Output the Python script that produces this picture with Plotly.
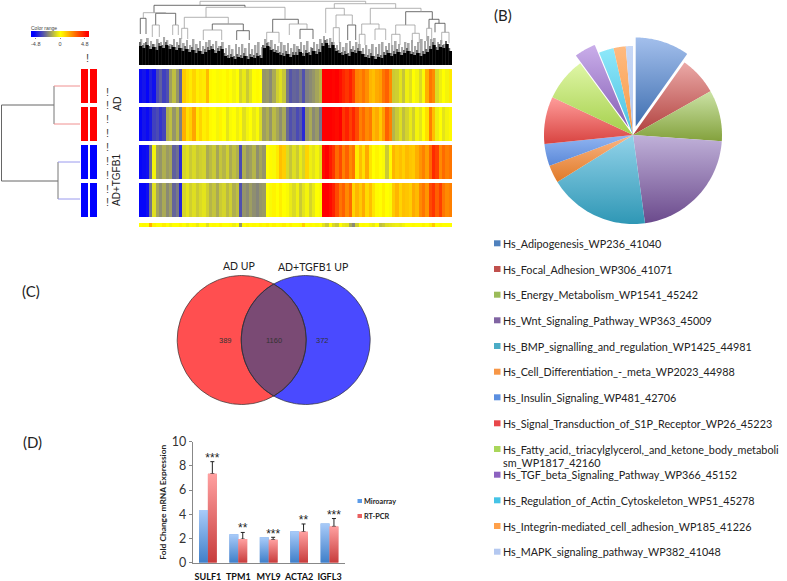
import numpy as np
import plotly.graph_objects as go

W, H = 787, 581
FONT = "Lato"

# ---------- (A) heatmap values, one list per sample row, low -4.8 .. high 4.8
AD_1 = [-4.6,-4.4,-4.7,-4.2,-4.5,-3.4,-3.0,-3.6,-3.3,-1.8,-1.2,-2.0,-3.0,1.0,0.6,0.4,0.8,0.3,0.5,0.4,1.3,
        0.1,0,-0.1,0.1,0,0.2,0,-0.2,0,-0.8,-0.4,-1.0,-0.5,0,0.1,0,-2.0,-1.9,-2.2,-1.6,-0.9,-0.6,-1.1,
        -2.6,-3.2,-2.9,-3.0,-2.6,-3.3,-2.4,-2.2,-2.0,-1.7,-1.4,4.8,4.8,4.8,4.7,4.8,4.5,4.1,3.8,4.2,3.6,
        2.4,2.2,2.6,2.1,1.4,1.2,1.6,1.8,2.6,3.0,2.2,-1.0,-0.9,-0.5,-1.1,-0.3,-0.6,0,-0.2,-0.7,-0.1,
        1.5,2.6,2.2,-0.7,-0.3,0,-0.2,0.4]
AD_2 = [-4.7,-4.4,-4.6,-4.3,-3.6,-3.4,-3.8,-3.5,-1.5,-1.2,-2.0,-1.4,-2.4,1.5,0.6,0.9,1.7,0.4,0.8,
        0.3,0.5,0.1,0,-0.2,0.2,0,-0.5,-0.1,0,-0.3,0.1,-0.6,-0.2,0,-0.4,-0.1,-0.7,
        -1.8,-1.5,-2.0,-1.3,-1.7,-2.1,-1.6,-2.8,-3.3,-3.0,-3.4,-3.1,-4.0,-2.0,-1.6,-2.2,-1.9,-2.6,
        4.8,4.8,4.8,4.7,4.6,4.8,3.8,4.2,3.6,4.1,3.4,2.4,2.8,2.2,2.5,1.3,1.6,1.0,1.8,3.0,2.4,
        -1.4,-1.0,-0.6,-1.2,-0.8,-0.4,-0.9,-0.2,-0.5,0,0.6,2.4,1.2,-0.3,0,-0.5,-0.2,0.1]
TGF_1 = [-4.7,-4.6,-4.5,-2.8,-0.2,-1.8,-2.0,-1.5,-1.9,-1.7,-3.0,-2.7,-4.0,-0.8,-0.6,-1.0,-0.7,-1.1,-0.9,-0.8,
         -1.6,-1.3,-1.0,-1.7,-1.1,-1.4,-0.9,-1.6,-1.2,-1.5,-3.4,-1.5,-2.0,-1.8,-1.4,-2.1,-1.7,-2.0,
         0,0.1,-0.1,0.4,1.2,0.9,-0.7,-1.1,-0.6,-1.0,-0.4,-0.8,0.8,-0.3,-0.5,-0.2,-0.6,
         4.6,4.8,4.3,3.8,2.8,3.4,2.4,3.0,2.2,2.6,0.4,1.2,0.6,1.6,0.5,0,0.2,0,-0.1,-1.0,0.1,
         1.4,1.0,1.2,0.9,1.3,1.1,1.0,1.5,2.0,2.4,1.8,2.8,4.0,3.6,2.2,2.8,2.4,2.6]
TGF_2 = [-4.7,-4.7,-4.5,-2.6,-0.6,-1.7,-2.1,-1.6,-2.2,-1.8,-2.9,-2.5,-4.1,-0.8,-0.5,-0.9,-0.6,-1.0,-0.7,-0.5,-0.9,
         -1.4,-1.1,-1.6,-1.0,-0.8,-1.3,-0.9,-1.5,-1.2,-3.3,-2.0,-2.2,-1.8,-2.1,-2.3,-2.0,-1.9,
         0,-0.1,0.2,0,0.3,0,-0.1,-0.4,-0.7,-0.3,-1.0,-0.5,-0.2,-0.8,-0.4,0,-0.1,
         4.8,4.8,4.6,4.2,3.4,2.6,3.0,2.2,2.8,0.8,1.4,1.0,1.6,0.7,1.2,0.5,0.1,0,0.3,0,-0.1,
         1.0,1.4,0.8,1.2,1.1,0.9,1.6,1.3,2.2,2.6,2.0,3.4,3.8,3.0,3.6,2.6,2.2,2.4]
STRIP = [0,0.1,0,1.5,0.2,0,0,0.3,0,-0.2,0,0,0.2,0,-0.3,0,0.1,-0.4,0,0,-0.6,0,0.1,0,0.2,0,0,0.1,-0.3,0,-2.0,
         0,0.2,0,0.1,0,0.2,0.1,0.3,0,0.2,0,0.1,0.3,0,0.2,0,0,0.1,0.9,0,0.1,0,-0.1,0,-0.5,-1.0,0,-0.7,-1.0,0,-0.4,-0.5,
         -1.6,-2.2,-0.9,0,0.1,0,-0.2,-0.4,0,-1.2,-1.0,-0.6,-0.5,-0.4,-0.3,-0.4,-0.2,0,0,0.1,0,0,0.2,0,0.3,1.0,0,0.1,0,0,0]
HEAT_ROWS = [AD_1, AD_2, TGF_1, TGF_2, STRIP]
COLOR_KEY = [-4.8,-3.84,-2.88,-1.92,-0.96,0,0.96,1.92,2.88,3.84,4.8]
COLOR_KEY_TICKS = ["-4.8", "0", "4.8"]
SAMPLE_GROUPS = [[1,1],[1,1],[0,0],[0,0]]

# gene dendrogram: merges (left, right, height, left drop, right drop, shade)
MERGE_LEFT  = [200,154,143.3,140.3,155.7,152.3,172.7,206,184.3,181.7,212.3,203.3,236.7,272.7,266.7,289.3,300,
               334.3,325.7,336,333.3,347.7,370.3,361.7,359.3,375,405.7,395.7,391.7,412.3,429,426.7,435,441.7]
MERGE_RIGHT = [365.7,245,165.7,146,175.7,159.3,178.3,285,228.3,187.7,243.3,221.7,249.3,298.3,279,307,313,
               395.7,344.3,352.3,339.3,355.7,421,379,365,385.7,432.3,415,400,419.3,439,431.7,445,449]
MERGE_H     = [63.7,59.7,52.3,46.7,51.7,40,40,57.7,47.7,36.7,41,35,34.3,45.7,32.7,41,35.7,
               61.3,56.7,50,37.3,40,56.7,41,30.7,36,53.3,40,30.7,31.7,45.7,36.7,41.7,32.7]
DROP_LEFT   = [59.7,52.3,46.7,31,40,28,30,47.7,36.7,26,35,25,25,32.7,22,30,26,
               56.7,32,37.3,22,25,41,30.7,20,25,40,30.7,20,22,36.7,24,32.7,22]
DROP_RIGHT  = [61.3,57.7,51.7,31,40,28,30,45.7,41,26,34.3,25,25,41,22,35.7,26,
               56.7,50,40,22,25,53.3,36,20,25,45.7,31.7,20,22,41.7,24,32.7,22]
MERGE_SHADE = [1,0,1,0,0,1,1,1,1,1,0,1,0,0,1,1,0,
               1,1,1,1,0,1,1,1,1,0,1,1,1,0,1,0,1]
LEAF_BLACK = [19,17,20,16,18,15,19,17,20,16,18,15,17,14,16,13,15,12,14,11,13,15,16,12,14,16,9,7,8,6,8,7,9,6,8,7,9,7,17,19,15,13,12,10,9,11,8,10,
              10,13,9,12,10,14,11,13,19,22,17,20,14,12,10,11,9,13,12,14,11,8,7,9,6,8,7,10,12,9,11,13,10,12,14,11,10,12,9,11,13,16,20,15,18,17,21,14]
LEAF_GRAY  = [26,22,27,24,21,26,23,28,25,21,26,23,27,22,25,20,26,21,24,19,23,25,21,24,19,23,17,20,16,21,18,21,17,22,16,20,23,18,26,23,25,21,19,23,20,22,17,21,
              19,23,20,24,18,23,21,26,29,26,27,23,20,23,18,22,24,19,23,21,17,20,16,21,18,21,23,19,22,20,24,21,18,23,22,25,19,23,26,24,29,26,27,23,25,21]
LEAF_MID   = [23,20,23,19,21,18,22,20,23,19,20,18,20,17,19,16,18,15,17,14,16,18,19,15,17,19,12,10,11,9,11,10,12,9,11,10,12,10,20,22,18,16,15,13,12,14,11,13,
              13,16,12,15,13,17,14,16,22,25,20,23,17,15,13,14,12,16,15,17,14,11,10,12,9,11,10,13,15,12,14,16,13,15,17,14,13,15,12,14,16,19,23,18,21,20,24,17]

# (B) pie
PATHWAYS = ["Hs_Adipogenesis_WP236_41040","Hs_Focal_Adhesion_WP306_41071","Hs_Energy_Metabolism_WP1541_45242",
            "Hs_Wnt_Signaling_Pathway_WP363_45009","Hs_BMP_signalling_and_regulation_WP1425_44981",
            "Hs_Cell_Differentiation_-_meta_WP2023_44988","Hs_Insulin_Signaling_WP481_42706",
            "Hs_Signal_Transduction_of_S1P_Receptor_WP26_45223",
            "Hs_Fatty_acid,_triacylglycerol,_and_ketone_body_metaboli<br>sm_WP1817_42160",
            "Hs_TGF_beta_Signaling_Pathway_WP366_45152","Hs_Regulation_of_Actin_Cytoskeleton_WP51_45278",
            "Hs_Integrin-mediated_cell_adhesion_WP185_41226","Hs_MAPK_signaling_pathway_WP382_41048"]
PATHWAY_PCT = [9.8,7.0,9.3,21.7,18.3,3.2,4.0,8.6,7.9,3.9,2.7,2.2,1.3]
PATHWAY_PULL = [0.1,0,0,0,0,0,0,0,0,0.1,0,0,0]
PIE_TOP = ["#a3bfec","#eba9a7","#cce3a6","#c0b1d9","#93d3ea","#fbb685","#92b6f2","#ff9d9b","#dff6a6","#caaeea","#8ee8fa","#ffba80","#c8d8f6"]
PIE_BOT = ["#3f6fb0","#b0403d","#83a13c","#6b4a8c","#2f97b5","#e07a28","#5a88d8","#d84340","#a4cf4a","#8660b5","#4bbfe0","#f59a45","#b3c8f0"]
PATHWAY_KEY = ["#4f81bd","#c0504d","#9bbb59","#8064a2","#4bacc6","#f79646","#5b8fe0","#e8474a","#a9d65a","#8c62c0","#45c3e6","#ffa04a","#b4c8f0"]

# (C) Venn
VENN_COUNTS = ["389", "1160", "372"]
VENN_SETS = ["AD UP", "AD+TGFB1 UP"]

# (D) bars
GENES = ["SULF1","TPM1","MYL9","ACTA2","IGFL3"]
MICROARRAY = [4.35,2.35,2.1,2.6,3.25]
RT_PCR = [7.35,1.95,1.9,2.55,3.0]
RT_PCR_ERR = [1.0,0.55,0.2,0.65,0.65]
STARS = ["***","**","***","**","***"]
STAR_Y = [8.1,2.3,1.8,2.95,3.4]

def dom_x(a, b): return [a / W, b / W]
def dom_y(top, bottom): return [1 - bottom / H, 1 - top / H]

fig = go.Figure()
hidden = dict(visible=False, showgrid=False, zeroline=False, automargin=False)
layout = dict(
    width=W, height=H, margin=dict(l=0, r=0, t=0, b=0, pad=0, autoexpand=False), autosize=False, template="none",
    paper_bgcolor="white", plot_bgcolor="rgba(0,0,0,0)", showlegend=False, barmode="overlay",
    font=dict(family=FONT, color="#222"),
)

# Full-page canvas axes for schematic parts (x1/y1)
layout["xaxis"] = dict(domain=[0, 1], range=[0, W], **hidden)
layout["yaxis"] = dict(domain=[0, 1], range=[H, 0], **hidden)

HEAT_SCALE = [[0, "#0000ff"], [0.5, "#ffff00"], [1, "#ff0000"]]
rows_px = [(69, 103), (107, 141), (145, 179), (183, 217), (223, 227)]
axis_no = 2
for row, (top, bot) in zip(HEAT_ROWS, rows_px):
    n = axis_no
    layout[f"xaxis{n}"] = dict(domain=dom_x(139, 452), range=[-0.5, len(row) - 0.5], anchor=f"y{n}", **hidden)
    layout[f"yaxis{n}"] = dict(domain=dom_y(top, bot), range=[-0.5, 0.5], anchor=f"x{n}", **hidden)
    fig.add_trace(go.Heatmap(z=[row], x=list(range(len(row))), y=[0], colorscale=HEAT_SCALE, zmin=-4.8, zmax=4.8,
                             showscale=False, xaxis=f"x{n}", yaxis=f"y{n}", hoverinfo="skip"))
    axis_no += 1

# Sample colour bars
n = axis_no
layout[f"xaxis{n}"] = dict(domain=dom_x(80, 98), range=[-0.5, 1.5], anchor=f"y{n}", **hidden)
layout[f"yaxis{n}"] = dict(domain=dom_y(67, 219), range=[3.5, -0.5], anchor=f"x{n}", **hidden)
fig.add_trace(go.Heatmap(z=SAMPLE_GROUPS, colorscale=[[0, "#0000ff"], [1, "#ff0000"]], zmin=0, zmax=1, showscale=False,
                         xgap=2, ygap=4, xaxis=f"x{n}", yaxis=f"y{n}", hoverinfo="skip"))
axis_no += 1

# Colour key
n = axis_no
layout[f"xaxis{n}"] = dict(domain=dom_x(31, 89), range=[-0.5, len(COLOR_KEY) - 0.5], anchor=f"y{n}", showgrid=False,
                           zeroline=False, tickmode="array", tickvals=[0.4, 5, 9.7], ticktext=COLOR_KEY_TICKS,
                           tickfont=dict(size=5.5, color="#444", family="Liberation Sans"), ticks="outside", ticklen=1,
                           tickcolor="#888", showline=False, automargin=False)
layout[f"yaxis{n}"] = dict(domain=dom_y(31, 37), range=[-0.5, 0.5], anchor=f"x{n}", **hidden)
fig.add_trace(go.Heatmap(z=[COLOR_KEY], colorscale=HEAT_SCALE, zmin=-4.8, zmax=4.8, showscale=False, zsmooth="best",
                         xaxis=f"x{n}", yaxis=f"y{n}", hoverinfo="skip"))
axis_no += 1

# Gene dendrogram
n = axis_no
layout[f"xaxis{n}"] = dict(domain=dom_x(139, 452), range=[139, 452], anchor=f"y{n}", **hidden)
layout[f"yaxis{n}"] = dict(domain=dom_y(0, 65), range=[0, 65], anchor=f"x{n}", **hidden)
cw = 313 / len(LEAF_BLACK)
cx = [139 + (i + 0.5) * cw for i in range(len(LEAF_BLACK))]
fig.add_trace(go.Bar(x=cx, y=LEAF_GRAY, width=cw * 0.55, offset=-cw * 0.05, marker=dict(color="#a8a8a8", line_width=0),
                     xaxis=f"x{n}", yaxis=f"y{n}", hoverinfo="skip"))
fig.add_trace(go.Bar(x=cx, y=LEAF_MID, width=cw * 0.45, offset=-cw * 0.5, marker=dict(color="#666666", line_width=0),
                     xaxis=f"x{n}", yaxis=f"y{n}", hoverinfo="skip"))
fig.add_trace(go.Bar(x=cx, y=LEAF_BLACK, width=cw, offset=-cw / 2, marker=dict(color="#000", line_width=0),
                     xaxis=f"x{n}", yaxis=f"y{n}", hoverinfo="skip"))
for shade, col in ((0, "#4a4a4a"), (1, "#a0a0a0")):
    xs, ys = [], []
    for l, r, h, dl, dr, s in zip(MERGE_LEFT, MERGE_RIGHT, MERGE_H, DROP_LEFT, DROP_RIGHT, MERGE_SHADE):
        if s == shade:
            xs += [l, l, r, r, None]
            ys += [dl, h, h, dr, None]
    fig.add_trace(go.Scatter(x=xs, y=ys, mode="lines", line=dict(color=col, width=0.8), xaxis=f"x{n}", yaxis=f"y{n}",
                             hoverinfo="skip"))
axis_no += 1

# Sample dendrogram (canvas)
def seg(xs, ys, col, w=1):
    fig.add_trace(go.Scatter(x=xs, y=ys, mode="lines", line=dict(color=col, width=w), xaxis="x", yaxis="y", hoverinfo="skip"))
seg([54, 54, 1.5, 1.5, 58, 58], [105, 105, 105, 181, 181, 181], "#666")
seg([54, 54, None, 58, 58], [86, 124, None, 162, 199], "#777")
seg([54, 80, None, 54, 80], [86, 86, None, 124, 124], "#f09090")
seg([58, 80, None, 58, 80], [162, 162, None, 199, 199], "#9a9aee")

# Pie: true slices with gradient wedges beneath
theta0 = 0.0
total = sum(PATHWAY_PCT)
cx0, cy0, R = 633.0, 135.0, 89.0
for pct, pull, top_c, bot_c in zip(PATHWAY_PCT, PATHWAY_PULL, PIE_TOP, PIE_BOT):
    sweep = 2 * np.pi * pct / total
    mid = theta0 + sweep / 2
    ox, oy = cx0 + pull * R * np.sin(mid), cy0 - pull * R * np.cos(mid)
    t = np.linspace(theta0, theta0 + sweep, 40)
    xs = [ox] + list(ox + R * np.sin(t)) + [ox]
    ys = [oy] + list(oy - R * np.cos(t)) + [oy]
    fig.add_trace(go.Scatter(x=xs, y=ys, mode="none", fill="toself", xaxis="x", yaxis="y", hoverinfo="skip",
                             fillcolor=top_c,
                             fillgradient=dict(type="vertical", colorscale=[[0, bot_c], [1, top_c]])))
    theta0 += sweep
pie_d = 2 * R * (1 + max(PATHWAY_PULL))
fig.add_trace(go.Pie(values=PATHWAY_PCT, labels=PATHWAYS, sort=False, direction="clockwise", rotation=0, pull=PATHWAY_PULL,
                     textinfo="none", hoverinfo="label+percent", marker=dict(colors=["rgba(255,255,255,0)"] * 13, line=dict(width=0)),
                     domain=dict(x=dom_x(cx0 - pie_d / 2, cx0 + pie_d / 2), y=dom_y(cy0 - pie_d / 2, cy0 + pie_d / 2))))

# Venn (canvas)
vr, vy, vx_a, vx_b = 64.5, 340.0, 241.7, 305.7
t = np.linspace(0, 2 * np.pi, 181)
fig.add_trace(go.Scatter(x=vx_a + vr * np.cos(t), y=vy + vr * np.sin(t), mode="none", fill="toself", fillcolor="#ff4f50",
                         xaxis="x", yaxis="y", hoverinfo="skip"))
fig.add_trace(go.Scatter(x=vx_b + vr * np.cos(t), y=vy + vr * np.sin(t), mode="none", fill="toself", fillcolor="#4a4aff",
                         xaxis="x", yaxis="y", hoverinfo="skip"))
half = (vx_b - vx_a) / 2
phi = np.arccos(half / vr)
ta = np.linspace(-phi, phi, 60)
lens_x = list(vx_a + vr * np.cos(ta)) + list(vx_b - vr * np.cos(ta[::-1]))
lens_y = list(vy + vr * np.sin(ta)) + list(vy + vr * np.sin(ta[::-1]))
fig.add_trace(go.Scatter(x=lens_x + lens_x[:1], y=lens_y + lens_y[:1], mode="lines", fill="toself", fillcolor="#7a4a74",
                         line=dict(color="#2a2a2a", width=0.7), xaxis="x", yaxis="y", hoverinfo="skip"))
for c in (vx_a, vx_b):
    fig.add_trace(go.Scatter(x=c + vr * np.cos(t), y=vy + vr * np.sin(t), mode="lines", line=dict(color="#333", width=0.7),
                             xaxis="x", yaxis="y", hoverinfo="skip"))

# Bars
n = axis_no
BW = 0.2925
xi = list(range(len(GENES)))
layout[f"xaxis{n}"] = dict(domain=dom_x(192.7, 344.7), range=[-0.5, 4.5], anchor=f"y{n}", tickmode="array", tickvals=xi,
                           ticktext=GENES, showgrid=False, zeroline=False, showline=True, linecolor="#888", linewidth=1,
                           ticks="", tickangle=0, automargin=False,
                           tickfont=dict(size=9, color="#111", family=FONT, weight="bold"), ticklabelstandoff=5)
layout[f"yaxis{n}"] = dict(domain=dom_y(441.7, 562.7), range=[0, 10], anchor=f"x{n}", tickvals=[0, 2, 4, 6, 8, 10],
                           showgrid=False, zeroline=False, showline=True, linecolor="#888", linewidth=1, ticks="outside",
                           ticklen=3, tickcolor="#888", tickfont=dict(size=12.5, color="#333", family=FONT), automargin=False,
                           title=dict(text="Fold Change mRNA Expression", font=dict(size=8.4, color="#222", family=FONT, weight="bold"), standoff=3))
fig.add_trace(go.Bar(x=xi, y=MICROARRAY, width=BW, offset=-BW, name="Miroarray", marker=dict(color="#6f9fe0", line_width=0),
                     xaxis=f"x{n}", yaxis=f"y{n}"))
fig.add_trace(go.Bar(x=xi, y=RT_PCR, width=BW, offset=0, name="RT-PCR", marker=dict(color="#e87a7a", line_width=0),
                     error_y=dict(type="data", array=RT_PCR_ERR, arrayminus=[0] * 5, symmetric=False, color="#222", thickness=1, width=2),
                     xaxis=f"x{n}", yaxis=f"y{n}"))
for i in xi:
    for v, off, lo, hi in ((MICROARRAY[i], -BW, "#3f7fc9", "#a9cbf9"), (RT_PCR[i], 0, "#c73c3c", "#ffa0a0")):
        x0, x1 = i + off, i + off + BW
        fig.add_trace(go.Scatter(x=[x0, x1, x1, x0, x0], y=[0, 0, v, v, 0], mode="none", fill="toself", fillcolor=hi,
                                 fillgradient=dict(type="vertical", colorscale=[[0, lo], [1, hi]]),
                                 xaxis=f"x{n}", yaxis=f"y{n}", hoverinfo="skip"))
fig.add_trace(go.Scatter(x=[i + BW / 2 for i in xi], y=STAR_Y, mode="text", text=STARS, textposition="top center",
                         textfont=dict(size=12, color="#222", family="Liberation Sans"), xaxis=f"x{n}", yaxis=f"y{n}", hoverinfo="skip"))

# Text and keys
ann, shapes = [], []
def T(text, x, y, size, anchor="left", color="#222", family=FONT, bold=False, angle=0):
    shift = 2 if anchor == "left" else 0
    ann.append(dict(text=text, x=(x - shift) / W, y=1 - y / H, xref="paper", yref="paper", xanchor=anchor, yanchor="middle", showarrow=False,
                    font=dict(size=size, color=color, family=family, weight="bold" if bold else "normal"), textangle=angle,
                    align="left"))
def box(x0, y0, x1, y1, col):
    shapes.append(dict(type="rect", xref="paper", yref="paper", x0=x0 / W, x1=x1 / W, y0=1 - y1 / H, y1=1 - y0 / H,
                       fillcolor=col, line_width=0, layer="above"))

T("(B)", 494, 15, 15, color="#222")
T("(C)", 22, 291, 15)
T("(D)", 23, 442, 15)
T(VENN_SETS[0], 239, 266, 10.5, "center")
T(VENN_SETS[1], 313, 267, 10.5, "center")
for c, xp in zip(VENN_COUNTS, (225.7, 274, 322)):
    T(c, xp, 340, 7.5, "center", color="#333", family="Liberation Sans")
T("AD", 117, 104, 10.5, "center", family="Liberation Sans", angle=-90)
T("AD+TGFB1", 117, 180, 10, "center", family="Liberation Sans", angle=-90)
T("Color range", 31, 28, 5, color="#444", family="Liberation Sans")
T("!", 87.7, 58, 11, "center", color="#444", family="Liberation Sans")
T(":", 87.7, 45, 4, "center", color="#777", family="Liberation Sans")
for yp in (92, 105, 119, 133, 147, 161, 175, 189, 202):
    T("!", 107, yp, 11, "center", color="#444", family="Liberation Sans")

key_y = [243.3, 269, 294.7, 320.3, 346, 371.7, 397.3, 423.3, 449, 474.7, 500.3, 526, 551.7]
for name, col, yp in zip(PATHWAYS, PATHWAY_KEY, key_y):
    box(494, yp - 3, 500.5, yp + 3, col)
    if "<br>" in name:
        a, b = name.split("<br>")
        T(a, 503.3, yp, 10.8)
        T(b, 503.3, yp + 13.7, 10.8)
    else:
        T(name, 503.3, yp, 10.8)

for name, col, yp in (("Miroarray", "#5b9be8", 501), ("RT-PCR", "#e86060", 516)):
    box(357.5, yp - 2, 362, yp + 2, col)
    T(name, 364.3, yp, 7.3, bold=True)

layout["annotations"] = ann
layout["shapes"] = shapes
fig.update_layout(**layout)
fig.write_html("out.html", config={"displayModeBar": False},
               post_script="document.body.style.margin='0';document.documentElement.style.overflow='hidden';")
